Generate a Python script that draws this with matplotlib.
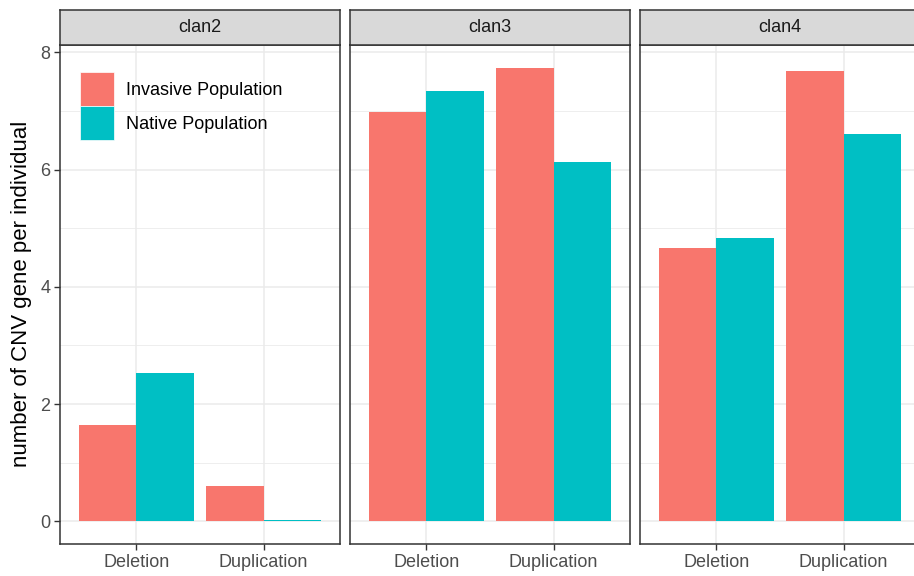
import numpy as np
import matplotlib.pyplot as plt
from matplotlib.patches import Patch

plt.rcParams["font.family"] = ["Liberation Sans", "DejaVu Sans"]

clans = ["clan2", "clan3", "clan4"]
cnv_types = ["Deletion", "Duplication"]
populations = ["Invasive Population", "Native Population"]
invasive = [[1.65, 0.61], [6.98, 7.74], [4.67, 7.69]]
native = [[2.53, 0.02], [7.35, 6.13], [4.83, 6.60]]
yticks = [0, 2, 4, 6, 8]

colors = ["#F8766D", "#00BFC4"]
W, H = 914, 576
fig = plt.figure(figsize=(W / 100, H / 100), dpi=100)

ymax = max(np.max(invasive), np.max(native))
ylim = (-0.05 * ymax, 1.05 * ymax)

panel_left = [60, 350, 640]
panel_w = 280
top, bottom = 45, 544
strip_top = 10

for i, clan in enumerate(clans):
    x0 = panel_left[i]
    ax = fig.add_axes([x0 / W, (H - bottom) / H, panel_w / W, (bottom - top) / H])
    x = np.arange(1, len(cnv_types) + 1)
    ax.bar(x - 0.225, invasive[i], width=0.45, color=colors[0], zorder=3)
    ax.bar(x + 0.225, native[i], width=0.45, color=colors[1], zorder=3)
    ax.set_xlim(0.4, 2.6)
    ax.set_ylim(*ylim)
    ax.set_xticks(x)
    ax.set_xticklabels(cnv_types)
    ax.set_yticks(yticks)
    ax.set_yticks([1, 3, 5, 7], minor=True)
    ax.grid(True, which="major", color="#EBEBEB", linewidth=1.1, zorder=0)
    ax.grid(True, which="minor", axis="y", color="#EBEBEB", linewidth=0.6, zorder=0)
    ax.tick_params(which="major", length=4, width=1, color="#333333",
                   labelsize=13, labelcolor="#4D4D4D", pad=3)
    ax.tick_params(which="minor", length=0)
    if i > 0:
        ax.tick_params(axis="y", length=0, labelleft=False)
    for s in ax.spines.values():
        s.set_color("#333333")
        s.set_linewidth(1.1)
    ax.set_axisbelow(True)

    sax = fig.add_axes([x0 / W, (H - top) / H, panel_w / W, (top - strip_top) / H])
    sax.set_facecolor("#D9D9D9")
    sax.set_xticks([])
    sax.set_yticks([])
    for s in sax.spines.values():
        s.set_color("#333333")
        s.set_linewidth(1.1)
    sax.text(0.5, 0.5, clan, ha="center", va="center", fontsize=13,
             color="#1A1A1A", transform=sax.transAxes)

    if i == 0:
        handles = [Patch(facecolor=c, edgecolor="white", linewidth=0.5) for c in colors]
        ax.legend(handles, populations, loc="upper left",
                  bbox_to_anchor=(80 / W, 1 - 72 / H), bbox_transform=fig.transFigure,
                  frameon=False, fontsize=13, handlelength=1.9, handleheight=2.53,
                  labelspacing=0, handletextpad=0.65, borderpad=0, borderaxespad=0)

fig.text(22 / W, 1 - 294 / H, "number of CNV gene per individual", rotation=90,
         ha="center", va="center", fontsize=16, color="black")

fig.savefig("out.png", dpi=100)
